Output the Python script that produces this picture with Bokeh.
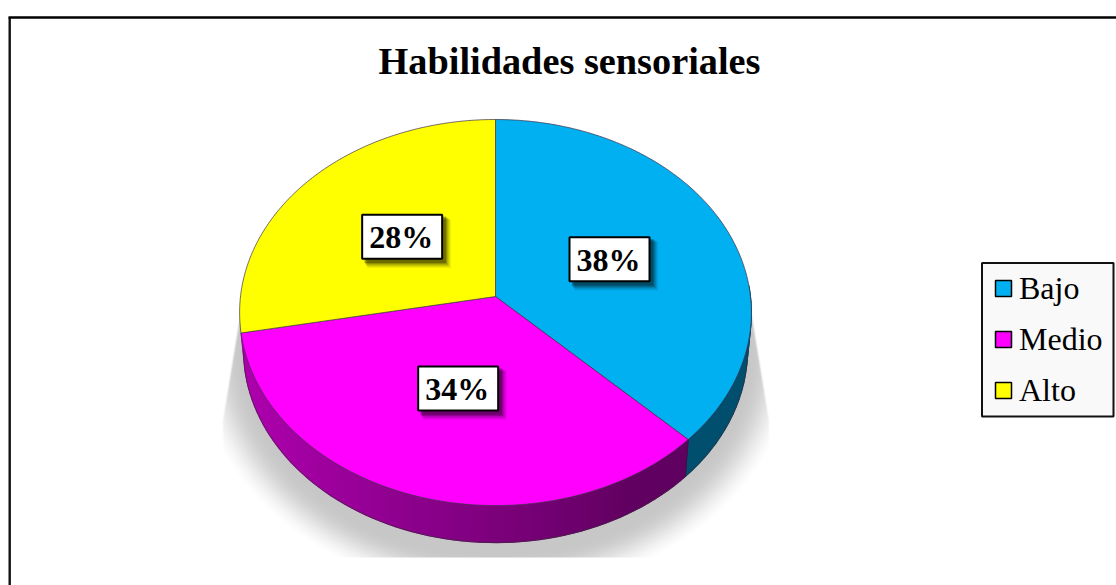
import numpy as np
from bokeh.plotting import figure
from bokeh.models import Range1d, Legend, LegendItem
from bokeh.core.properties import value
from bokeh.embed import file_html
from bokeh.resources import INLINE

title = "Habilidades sensoriales"
categories = ["Bajo", "Medio", "Alto"]
shares = [37.4, 34.6, 28.0]
labels = ["38%", "34%", "28%"]
colors = ["#00B0F0", "#FF00FF", "#FFFF00"]
side_blue = "#004F6E"

W, H = 1116, 585
SERIF = value("Liberation Serif")
CX, CY, A, B, K = 495.0, 296.0, 191.7, 255.0, 0.083
DEPTH, SHRINK = 37.0, 0.985

p = figure(width=W, height=H, x_range=Range1d(0, W), y_range=Range1d(H, 0),
           output_backend="svg", toolbar_location=None, min_border=0,
           background_fill_color="white", border_fill_color="white", outline_line_color=None)
p.axis.visible = False
p.grid.visible = False


def project(deg, r=1.0):
    t = np.radians(deg)
    u, v = r * np.sin(t), r * np.cos(t)
    w = 1 + K * v
    return CX + B * u / w, CY - A * v / w


def lower(deg):
    x, y = project(deg)
    return CX + (x - CX) * SHRINK, y + DEPTH


# soft shadow below the pie
gx, gy = np.meshgrid(np.arange(221, 769), np.arange(300, 557))
rho = np.hypot((gx + 0.5 - CX) / 255.0, (gy + 0.5 - 346.0) / 210.0)
soft = np.clip((1.2 - rho) / 0.2, 0, 1)
soft = soft * soft * (3 - 2 * soft)
edge = 240 - (gy - 310) * 18 / 110
edge = np.maximum(edge, 222)
side = np.clip((np.minimum(gx - edge, 2 * CX - gx - edge)) / 2.0 + 0.5, 0, 1)
top = np.clip((gy - 300) / 15.0, 0, 1)
alpha = 0.22 * soft * side * top
rgba = np.zeros(gx.shape + (4,), dtype=np.uint8)
rgba[..., 3] = (alpha * 255).astype(np.uint8)
img = rgba.view(dtype=np.uint32).reshape(gx.shape)
p.image_rgba(image=[img], x=221, y=300, dw=548, dh=257)

# side wall, from the slice angles
edges = np.cumsum([0] + shares) * 3.6
def wall(a0, a1, color):
    xs0, ys0 = project(a0)
    xs1, ys1 = project(a1)
    bx0, by0 = lower(a0)
    bx1, by1 = lower(a1)
    p.patch([xs0, xs1, bx1, bx0], [ys0, ys1, by1, by0], fill_color=color, line_color=color, line_width=1.2)

steps = np.linspace(edges[0], edges[1], 60)
steps = steps[steps >= 85]
for a0, a1 in zip(steps[:-1], steps[1:]):
    wall(a0, a1, side_blue)
steps = np.linspace(edges[1], edges[2], 70)
for a0, a1 in zip(steps[:-1], steps[1:]):
    mx, _ = project((a0 + a1) / 2)
    f = np.clip((mx - 250) / (640 - 250), 0, 1)
    wall(a0, a1, "#%02X00%02X" % (int(172 - 76 * f), int(172 - 76 * f)))
arc = np.linspace(85, 265, 200)
bx, by = lower(arc)
p.line(bx, by, line_color="#3A2A3A", line_width=0.7)
sx, sy = [np.array([v[0], v[1]]) for v in zip(project(edges[1]), lower(edges[1]))]
p.line(sx, sy, line_color="#2A1A3A", line_width=0.7)

# top face
for a0, a1, c in zip(edges[:-1], edges[1:], colors):
    t = np.linspace(a0, a1, 120)
    x, y = project(t)
    p.patch(np.r_[CX, x], np.r_[CY, y], fill_color=c, line_color="#40304A", line_width=0.7)

# percent labels
mids = (edges[:-1] + edges[1:]) / 2
lx, ly = project(mids, 0.49)
ly = ly - 1.5
lx = lx + 0.5
for off, a in [(7, 0.07), (6, 0.10), (5, 0.14), (4, 0.2), (3, 0.25)]:
    p.rect(lx + off, ly + off, width=80 + off / 2, height=45 + off / 2, fill_color="black", fill_alpha=a, line_color=None)
p.rect(lx, ly, width=80, height=44, fill_color="white", line_color="black", line_width=2)
p.text(lx - 1, ly + 0.5, text=labels, text_font=SERIF, text_font_style="bold", text_font_size="32px",
       text_align="center", text_baseline="middle", text_color="black")

# title
p.text([569], [60], text=[title], text_font=SERIF, text_font_style="bold", text_font_size="38.3px",
       text_align="center", text_baseline="middle", text_color="black")

# chart frame
p.line([9.2, 9.2], [17, H], line_color="#111111", line_width=2.4)
p.line([8, W], [17, 17], line_color="#000000", line_width=2.4)

# legend
p.quad(left=[981.5], right=[1113], top=[262.5], bottom=[416], fill_color="#F9F9F9", line_color="#111111", line_width=2)
items = []
for cat, c in zip(categories, colors):
    r = p.quad(left=[np.nan], right=[np.nan], top=[np.nan], bottom=[np.nan], fill_color=c, line_color="black", line_width=1.5)
    items.append(LegendItem(label=value(cat), renderers=[r]))
leg = Legend(items=items, location=(993, H - 408.5), orientation="vertical", margin=0,
             padding=0, spacing=14, glyph_width=20, glyph_height=20, label_standoff=6,
             label_height=34, label_text_font="Liberation Serif", label_text_font_size="32px",
             label_text_color="black", border_line_color=None, background_fill_alpha=0)
p.add_layout(leg, "center")

open("out.html", "w").write(file_html(p, INLINE))
